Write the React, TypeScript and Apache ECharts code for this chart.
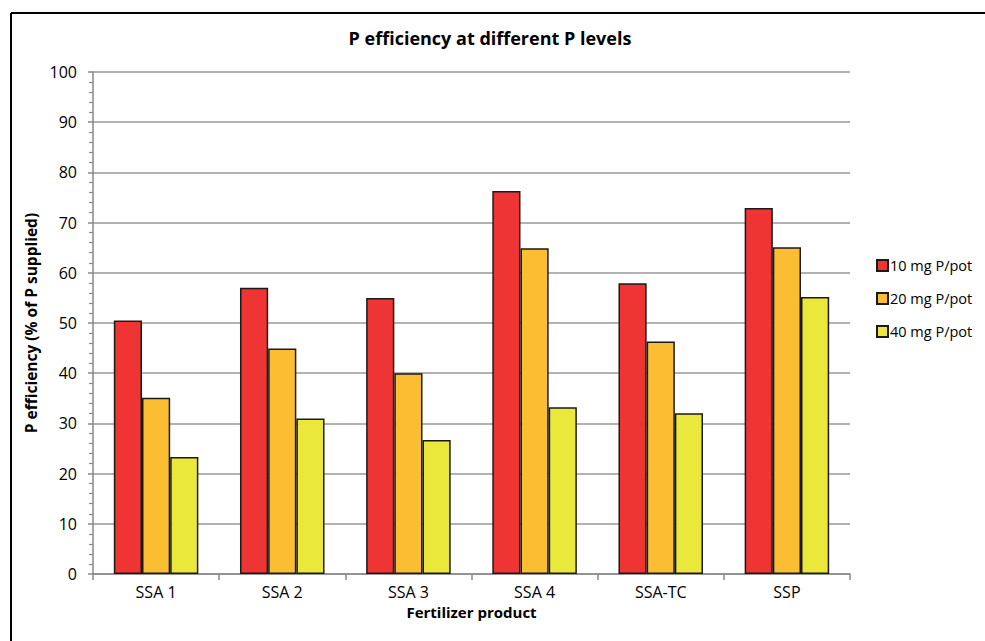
import React, { useEffect, useRef } from "react";
import * as echarts from "echarts";

const categories = ["SSA 1", "SSA 2", "SSA 3", "SSA 4", "SSA-TC", "SSP"];
const seriesNames = ["10 mg P/pot", "20 mg P/pot", "40 mg P/pot"];
const p10 = [50.5, 57, 55, 76.3, 57.9, 72.9];
const p20 = [35.1, 44.9, 40, 64.9, 46.3, 65.1];
const p40 = [23.3, 31, 26.7, 33.2, 32, 55.2];
const colors = ["#EE3533", "#FBBE33", "#EAE83A"];
const yTicks = { min: 0, max: 100, interval: 10 };

export default function App() {
  const ref = useRef<HTMLDivElement>(null);
  useEffect(() => {
    if (!ref.current) return;
    const chart = echarts.init(ref.current, null, { renderer: "svg" });
    const font = "'Open Sans', 'Liberation Sans', sans-serif";
    const data = [p10, p20, p40];
    chart.setOption({
      animation: false,
      backgroundColor: "#fff",
      textStyle: { fontFamily: font },
      title: {
        text: "P efficiency at different P levels",
        left: 485,
        textAlign: "center",
        top: 24,
        textStyle: { fontSize: 18, fontWeight: "bold", color: "#000", fontFamily: font },
      },
      legend: {
        orient: "vertical",
        left: 871,
        top: 253,
        itemWidth: 11,
        itemHeight: 11,
        itemGap: 18,
        icon: "rect",
        textStyle: { fontSize: 14.5, color: "#000", fontFamily: font, padding: [0, 0, 0, -3] },
        data: seriesNames,
      },
      grid: { left: 93, right: 135, top: 72, bottom: 67, containLabel: false },
      xAxis: {
        type: "category",
        data: categories,
        name: "Fertilizer product",
        nameLocation: "middle",
        nameGap: 30,
        nameTextStyle: { fontSize: 15, fontWeight: "bold", color: "#000", fontFamily: font },
        axisLine: { lineStyle: { color: "#888", width: 1.5 } },
        axisTick: { show: true, length: 6, lineStyle: { color: "#888", width: 1.5 } },
        axisLabel: { fontSize: 16, color: "#000", margin: 10, fontFamily: font },
      },
      yAxis: {
        type: "value",
        min: yTicks.min,
        max: yTicks.max,
        interval: yTicks.interval,
        name: "P efficiency (% of P supplied)",
        nameLocation: "middle",
        nameGap: 53,
        nameTextStyle: { fontSize: 15.5, fontWeight: "bold", color: "#000", fontFamily: font },
        axisLine: { show: true, lineStyle: { color: "#888", width: 1.5 } },
        axisTick: { show: true, length: 5, lineStyle: { color: "#888", width: 1.5 } },
        minorTick: { show: true, splitNumber: 5, length: 4, lineStyle: { color: "#888", width: 1.2 } },
        axisLabel: { fontSize: 16, color: "#000", margin: 16, fontFamily: font },
        splitLine: { show: true, lineStyle: { color: "#999", width: 1.5 } },
      },
      series: seriesNames.map((n, i) => ({
        name: n,
        type: "bar",
        data: data[i],
        barGap: "0%",
        barCategoryGap: "33%",
        itemStyle: { color: colors[i], borderColor: "#1a1a1a", borderWidth: 1.5 },
      })),
      graphic: [
        { type: "line", shape: { x1: 11, y1: 13, x2: 985, y2: 13 }, style: { stroke: "#000", lineWidth: 2 } },
        { type: "line", shape: { x1: 11, y1: 13, x2: 11, y2: 641 }, style: { stroke: "#000", lineWidth: 2 } },
      ],
    });
    return () => chart.dispose();
  }, []);
  return <div ref={ref} style={{ position: "absolute", left: 0, top: 0, width: 985, height: 641 }} />;
}
